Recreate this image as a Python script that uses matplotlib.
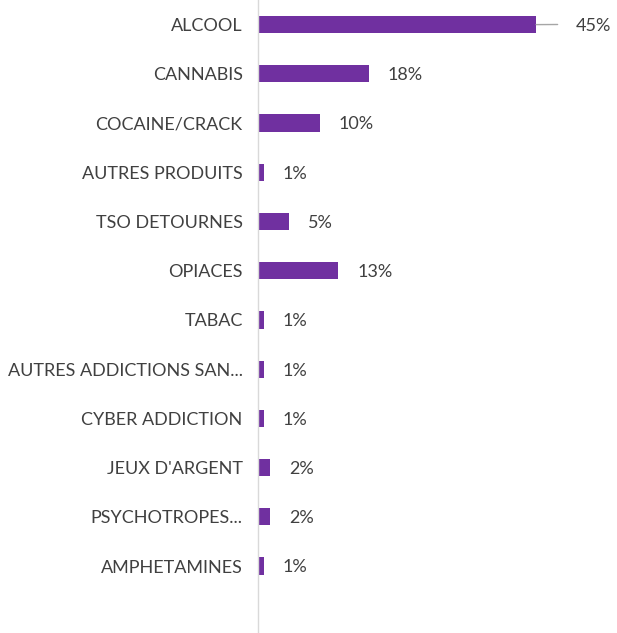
import matplotlib.pyplot as plt

# Data
categories = ["ALCOOL", "CANNABIS", "COCAINE/CRACK", "AUTRES PRODUITS", "TSO DETOURNES",
              "OPIACES", "TABAC", "AUTRES ADDICTIONS SAN...", "CYBER ADDICTION",
              "JEUX D'ARGENT", "PSYCHOTROPES...", "AMPHETAMINES"]
values = [45, 18, 10, 1, 5, 13, 1, 1, 1, 2, 2, 1]
value_labels = ["45%", "18%", "10%", "1%", "5%", "13%", "1%", "1%", "1%", "2%", "2%", "1%"]

bar_color = "#7030A0"
text_color = "#404040"

plt.rcParams['font.family'] = ['Lato', 'DejaVu Sans']

W, H = 617, 633
fig = plt.figure(figsize=(W / 100, H / 100), dpi=100)
ax = fig.add_axes([258 / W, 0, (W - 258) / W, 1])

ypos = list(range(len(categories)))
ax.barh(ypos, values, height=0.35, color=bar_color)

ax.set_xlim(0, (W - 258) / 6.18)
ax.set_ylim(12.36, -0.5)

for y, v, lab in zip(ypos, values, value_labels):
    if v >= 40:
        # label pushed out with a leader line
        ax.annotate(lab, xy=(v, y), xytext=(28.5, -1), textcoords='offset points',
                    ha='left', va='center', fontsize=13, color=text_color,
                    arrowprops=dict(arrowstyle='-', color='#A6A6A6', lw=1,
                                    shrinkA=11, shrinkB=0, relpos=(0, 0.6)))
    else:
        ax.annotate(lab, xy=(v, y), xytext=(13.5, -1), textcoords='offset points',
                    ha='left', va='center', fontsize=13, color=text_color)

ax.set_yticks(ypos)
ax.set_yticklabels(categories, fontsize=13, color=text_color)
ax.tick_params(axis='y', length=0, pad=11)
ax.set_xticks([])
for s in ['top', 'right', 'bottom']:
    ax.spines[s].set_visible(False)
ax.spines['left'].set_color('#D9D9D9')
ax.spines['left'].set_linewidth(1)

fig.savefig("out.png", dpi=100)
